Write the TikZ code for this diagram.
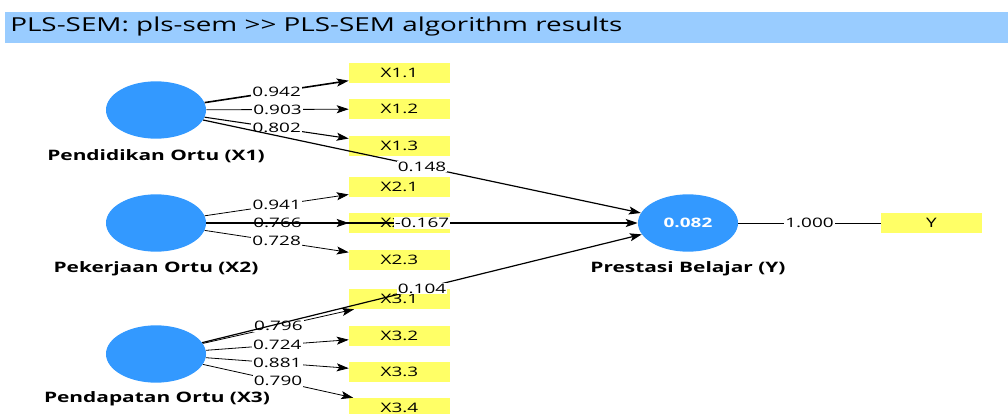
\documentclass[tikz,border=0pt]{standalone}
\usepackage{fontspec}
\setmainfont{Open Sans}[FakeStretch=1.45]
\usetikzlibrary{arrows.meta,shapes.geometric}
\definecolor{barblue}{HTML}{99CCFF}
\definecolor{lvblue}{HTML}{3399FF}
\definecolor{mvyellow}{HTML}{FFFF66}
\tikzset{
	latent/.style={ellipse,fill=lvblue,minimum width=75pt,minimum height=43pt,inner sep=0pt},
	manifest/.style={rectangle,fill=mvyellow,minimum width=75.75pt,minimum height=15pt,inner sep=0pt,font=\fontsize{9.8}{11}\selectfont},
	lvname/.style={font=\bfseries\fontsize{10.8}{12}\selectfont},
	loading/.style={fill=white,inner sep=0.8pt,font=\fontsize{9.8}{11}\selectfont},
	outer/.style={-{Stealth[length=9pt,width=6pt,inset=2pt]},line width=0.6pt},
	inner/.style={-{Stealth[length=9pt,width=6pt,inset=2pt]},line width=0.9pt}
}

\begin{document}
\begin{tikzpicture}[x=0.75pt,y=-0.75pt]
			%%%%% START %%%%%
			\useasboundingbox (0,0) rectangle (1008,414);
			\fill[barblue] (5,12) rectangle (1008,43);
			\node[anchor=west,inner sep=0pt,font=\fontsize{14.4}{16}\selectfont] (title) at (10,27) {PLS-SEM: pls-sem >{}> PLS-SEM algorithm results};
			
			% latent variables
			\node[latent] (x1) at (156,110) {};
			\node[latent] (x2) at (156,223) {};
			\node[latent] (x3) at (156,354) {};
			\node[latent,text=white,font=\bfseries\fontsize{9.8}{11}\selectfont] (y) at (688,223) {0.082};
			
			\node[lvname] (nx1) at (156,156) {Pendidikan Ortu (X1)};
			\node[lvname] (nx2) at (156,269) {Pekerjaan Ortu (X2)};
			\node[lvname] (nx3) at (157,399) {Pendapatan Ortu (X3)};
			\node[lvname] (ny) at (688,269) {Prestasi Belajar (Y)};
			
			% indicators
			\node[manifest] (x11) at (399.5,73) {X1.1};
			\node[manifest] (x12) at (399.5,109) {X1.2};
			\node[manifest] (x13) at (399.5,146) {X1.3};
			\node[manifest] (x21) at (399.5,187) {X2.1};
			\node[manifest] (x22) at (399.5,223) {X2.2};
			\node[manifest] (x23) at (399.5,260) {X2.3};
			\node[manifest] (x31) at (399.5,299) {X3.1};
			\node[manifest] (x32) at (399.5,336) {X3.2};
			\node[manifest] (x33) at (399.5,372) {X3.3};
			\node[manifest] (x34) at (399.5,408) {X3.4};
			\node[manifest] (yy) at (931.5,223) {Y};
			
			% outer loadings
			\draw[outer,line width=1.2pt] (x1) -- node[loading] {0.942} (x11);
			\draw[outer] (x1) -- node[loading] {0.903} (x12);
			\draw[outer,line width=0.8pt] (x1) -- node[loading] {0.802} (x13);
			\draw[outer] (x2) -- node[loading] {0.941} (x21);
			\draw[outer] (x2) -- node[loading] {0.766} (x22);
			\draw[outer] (x2) -- node[loading] {0.728} (x23);
			\draw[outer] (x3) -- node[loading] {0.796} (x31);
			\draw[outer] (x3) -- node[loading] {0.724} (x32);
			\draw[outer] (x3) -- node[loading] {0.881} (x33);
			\draw[outer] (x3) -- node[loading] {0.790} (x34);
			
			% path coefficients
			\draw[inner] (x1) -- node[loading] {0.148} (y);
			\draw[inner] (x2) -- node[loading] {-0.167} (y);
			\draw[inner] (x3) -- node[loading] {0.104} (y);
			\draw[line width=0.6pt] (y) -- node[loading] {1.000} (yy);
			%%%%% END %%%%%
\end{tikzpicture}
\end{document}
